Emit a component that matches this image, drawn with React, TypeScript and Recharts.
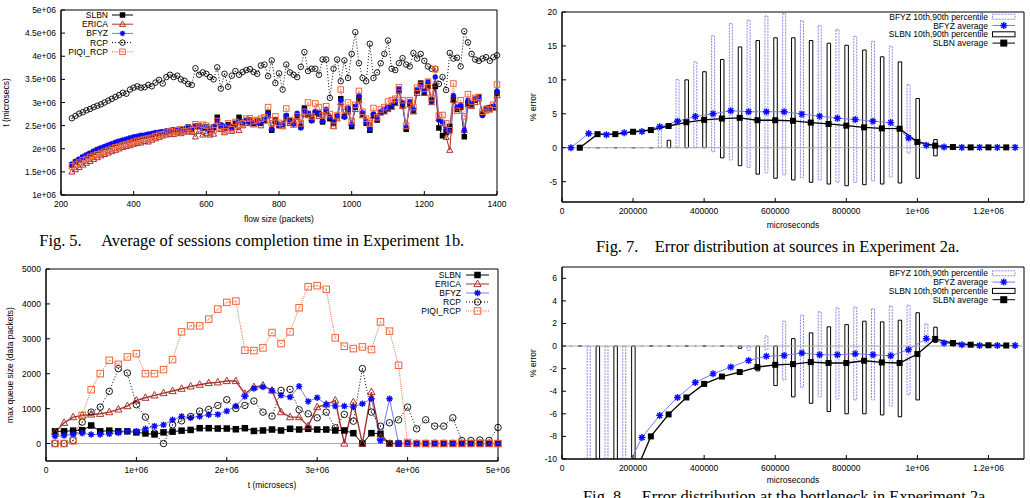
import { Bar, ComposedChart, Legend, Line, LineChart, ReferenceArea, ReferenceLine, XAxis, YAxis } from "recharts"

const SANS = "'Liberation Sans', Arial, Helvetica, sans-serif"
const SERIF = "'Liberation Serif', 'Times New Roman', serif"
const FS = 8.5

const BLUE = "#0a0aff"
const LAVENDER = "#7b7bf0"
const BOXBLUE = "#8a8ae6"
const BROWN = "#a8322d"
const ORANGE = "#f0643a"

/* ---------- Fig. 5: completion time (x 1e+06 microsecs) vs flow size ---------- */
const fig5Flow = [
  230, 240, 250, 260, 270, 280, 290, 300, 310, 320,
  330, 340, 350, 360, 370, 380, 390, 400, 410, 420,
  430, 440, 450, 460, 470, 480, 490, 500, 510, 520,
  530, 540, 550, 560, 570, 580, 590, 600, 610, 620,
  630, 640, 650, 660, 670, 680, 690, 700, 710, 720,
  730, 740, 750, 760, 770, 780, 790, 800, 810, 820,
  830, 840, 850, 860, 870, 880, 890, 900, 910, 920,
  930, 940, 950, 960, 970, 980, 990, 1000, 1010, 1020,
  1030, 1040, 1050, 1060, 1070, 1080, 1090, 1100, 1110, 1120,
  1130, 1140, 1150, 1160, 1170, 1180, 1190, 1200, 1210, 1220,
  1230, 1240, 1250, 1260, 1270, 1280, 1290, 1300, 1310, 1320,
  1330, 1340, 1350, 1360, 1370, 1380, 1390, 1400,
]
const fig5Slbn = [
  1.65, 1.71, 1.76, 1.81, 1.85, 1.89, 1.93, 1.97, 2.0, 2.03,
  2.06, 2.09, 2.12, 2.15, 2.17, 2.19, 2.21, 2.23, 2.25, 2.27,
  2.28, 2.3, 2.31, 2.33, 2.34, 2.36, 2.37, 2.38, 2.4, 2.41,
  2.4, 2.42, 2.47, 2.43, 2.48, 2.5, 2.45, 2.47, 2.4, 2.46,
  2.68, 2.5, 2.45, 2.52, 2.48, 2.55, 2.68, 2.56, 2.6, 2.62,
  2.55, 2.6, 2.55, 2.62, 2.78, 2.4, 2.62, 2.5, 2.52, 2.7,
  2.6, 2.55, 2.72, 2.48, 2.88, 2.75, 2.62, 2.78, 2.75, 2.58,
  2.82, 2.65, 2.55, 2.7, 3.08, 2.7, 2.85, 2.48, 2.9, 3.1,
  2.75, 2.55, 2.4, 2.72, 2.62, 2.78, 2.82, 2.88, 2.92, 3.0,
  3.28, 2.95, 2.42, 2.98, 2.82, 3.25, 3.42, 3.22, 3.38, 3.05,
  3.35, 2.45, 2.28, 2.35, 2.48, 3.07, 2.85, 2.9, 2.26, 2.98,
  2.95, 3.05, 3.12, 2.75, 2.85, 2.88, 2.9, 3.2,
]
const fig5Erica = [
  1.5, 1.55, 1.6, 1.65, 1.69, 1.73, 1.77, 1.81, 1.85, 1.88,
  1.91, 1.94, 1.97, 2.0, 2.03, 2.05, 2.07, 2.1, 2.12, 2.13,
  2.16, 2.15, 2.19, 2.22, 2.25, 2.28, 2.3, 2.32, 2.31, 2.35,
  2.33, 2.36, 2.38, 2.36, 2.26, 2.38, 2.3, 2.33, 2.3, 2.32,
  2.55, 2.42, 2.35, 2.45, 2.38, 2.47, 2.4, 2.5, 2.55, 2.56,
  2.52, 2.58, 2.5, 2.6, 2.72, 2.45, 2.6, 2.52, 2.48, 2.65,
  2.55, 2.58, 2.68, 2.52, 2.75, 2.72, 2.65, 2.8, 2.7, 2.62,
  2.78, 2.7, 2.48, 2.65, 3.0, 2.72, 2.8, 2.55, 2.85, 3.05,
  2.72, 2.62, 2.5, 2.7, 2.66, 2.8, 2.8, 2.85, 2.9, 2.98,
  3.25, 2.92, 2.48, 2.95, 2.8, 3.2, 3.3, 3.2, 3.35, 3.0,
  3.4, 2.65, 2.55, 2.25, 1.97, 3.05, 2.88, 2.92, 2.4, 2.95,
  2.92, 3.0, 3.08, 2.78, 2.82, 2.85, 2.88, 3.15,
]
const fig5Bfyz = [
  1.67, 1.73, 1.78, 1.83, 1.87, 1.91, 1.95, 1.99, 2.02, 2.05,
  2.08, 2.11, 2.14, 2.17, 2.19, 2.21, 2.24, 2.26, 2.27, 2.29,
  2.3, 2.32, 2.33, 2.35, 2.36, 2.37, 2.39, 2.4, 2.41, 2.42,
  2.43, 2.44, 2.43, 2.45, 2.5, 2.49, 2.47, 2.44, 2.42, 2.48,
  2.62, 2.52, 2.48, 2.5, 2.46, 2.52, 2.6, 2.58, 2.62, 2.58,
  2.57, 2.56, 2.58, 2.64, 2.75, 2.42, 2.58, 2.52, 2.54, 2.72,
  2.58, 2.53, 2.77, 2.45, 2.82, 2.77, 2.6, 2.8, 2.78, 2.6,
  2.85, 2.68, 2.58, 2.7, 3.05, 2.68, 2.88, 2.52, 2.92, 3.15,
  2.78, 2.58, 2.42, 2.75, 2.64, 2.8, 2.85, 2.9, 2.95, 3.02,
  3.3, 3.0, 2.46, 3.02, 2.85, 3.28, 3.35, 3.25, 3.45, 3.02,
  3.55, 2.62, 2.58, 2.42, 2.38, 3.15, 2.9, 2.95, 2.4, 3.05,
  2.98, 3.08, 3.1, 2.72, 2.88, 2.9, 2.92, 3.25,
]
const fig5Rcp = [
  2.66, 2.71, 2.76, 2.79, 2.83, 2.86, 2.9, 2.93, 2.96, 3.0,
  3.04, 3.08, 3.12, 3.16, 3.21, 3.19, 3.28, 3.32, 3.35, 3.32,
  3.33, 3.38, 3.35, 3.43, 3.49, 3.41, 3.55, 3.6, 3.55, 3.58,
  3.5, 3.47, 3.4, 3.38, 3.74, 3.6, 3.65, 3.62, 3.55, 3.5,
  3.76, 3.3, 3.62, 3.34, 3.58, 3.68, 3.6, 3.66, 3.7, 3.72,
  3.66, 3.62, 3.8, 3.82, 3.57, 3.91, 3.42, 3.63, 3.28, 3.82,
  3.65, 3.6, 3.55, 3.77, 4.09, 3.68, 3.73, 3.73, 3.6, 3.93,
  3.93, 3.1, 3.73, 3.93, 3.46, 3.91, 3.53, 4.05, 4.52, 3.85,
  3.53, 3.46, 4.27, 3.53, 3.65, 3.85, 4.05, 4.34, 3.73, 3.7,
  3.85, 3.96, 3.82, 3.78, 4.07, 3.95, 4.05, 3.9, 3.78, 3.73,
  3.73, 3.4, 3.55, 3.27, 4.07, 3.95, 3.97, 3.78, 4.54, 4.3,
  4.05, 3.93, 3.9, 3.95, 3.98, 3.9, 3.98, 4.02,
]
const fig5Piqi = [
  1.62, 1.66, 1.7, 1.75, 1.78, 1.82, 1.85, 1.88, 1.91, 1.94,
  1.97, 2.0, 2.03, 2.05, 2.08, 2.1, 2.12, 2.15, 2.17, 2.19,
  2.21, 2.22, 2.24, 2.27, 2.3, 2.31, 2.35, 2.38, 2.36, 2.4,
  2.42, 2.38, 2.45, 2.4, 2.53, 2.48, 2.52, 2.5, 2.45, 2.4,
  2.6, 2.45, 2.38, 2.55, 2.42, 2.58, 2.52, 2.55, 2.65, 2.66,
  2.6, 2.62, 2.65, 2.68, 2.9, 2.55, 2.7, 2.56, 2.5, 2.87,
  2.62, 2.52, 2.7, 2.55, 2.8, 3.0, 2.7, 2.98, 2.9, 2.72,
  2.92, 2.75, 2.5, 2.72, 3.28, 2.85, 3.0, 2.6, 2.95, 3.25,
  2.8, 2.65, 2.55, 2.88, 2.68, 2.85, 2.9, 3.02, 3.05, 3.08,
  3.33, 3.05, 2.5, 3.05, 2.9, 3.32, 3.38, 3.3, 3.45, 3.1,
  3.72, 2.72, 2.73, 2.55, 2.4, 3.41, 2.82, 3.05, 2.7, 3.18,
  3.02, 3.1, 3.12, 2.8, 2.85, 2.85, 2.95, 3.39,
]
const fig5XTicks = [200, 400, 600, 800, 1000, 1200, 1400]
const fig5YTicks = [1, 1.5, 2, 2.5, 3, 3.5, 4, 4.5, 5]

/* ---------- Fig. 6: max queue size vs time ---------- */
const fig6T = [
  100000, 200000, 300000, 400000, 500000, 600000, 700000, 800000, 900000, 1000000,
  1100000, 1200000, 1300000, 1400000, 1500000, 1600000, 1700000, 1800000, 1900000, 2000000,
  2100000, 2200000, 2300000, 2400000, 2500000, 2600000, 2700000, 2800000, 2900000, 3000000,
  3100000, 3200000, 3300000, 3400000, 3500000, 3600000, 3700000, 3800000, 3900000, 4000000,
  4100000, 4200000, 4300000, 4400000, 4500000, 4600000, 4700000, 4800000, 4900000, 5000000,
]
const fig6Slbn = [
  350, 350, 370, 380, 517, 350, 370, 350, 350, 320,
  290, 262, 320, 340, 370, 390, 440, 440, 430, 430,
  410, 440, 360, 374, 402, 374, 422, 402, 422, 402,
  402, 374, 374, 297, 0, 297, 278, 0, 0, 0,
  0, 0, 0, 0, 0, 0, 0, 0, 0, 0,
]
const fig6Erica = [
  325, 594, 757, 805, 834, 853, 900, 977, 1073, 1236,
  1313, 1380, 1446, 1504, 1571, 1638, 1686, 1734, 1753, 1791,
  1791, 1428, 1620, 1665, 1520, 900, 757, 757, 498, 1044,
  1121, 1236, 0, 1188, 0, 1475, 182, 0, 0, 0,
  0, 0, 0, 0, 0, 0, 0, 0, 0, 0,
]
const fig6Bfyz = [
  210, 230, 259, 297, 259, 259, 278, 307, 354, 354,
  422, 498, 536, 680, 776, 738, 776, 824, 834, 930,
  1073, 1351, 1580, 1619, 1520, 1380, 1332, 1638, 1207, 1313,
  1121, 1073, 1073, 1044, 1140, 1284, 86, 1284, 0, 0,
  0, 0, 0, 0, 0, 0, 0, 0, 0, 0,
]
const fig6Rcp = [
  0, 0, 90, 613, 900, 1044, 1494, 2146, 2021, 1112,
  757, 300, 0, 536, 650, 776, 930, 977, 1092, 1255,
  1006, 1092, 1217, 900, 785, 1523, 1552, 968, 853, 738,
  900, 450, 834, 641, 2146, 900, 498, 594, 680, 1044,
  422, 680, 498, 498, 738, 86, 86, 100, 86, 460,
]
const fig6Piqi = [
  0, 0, 78, 805, 1543, 2003, 2385, 2270, 2481, 2577,
  2003, 2003, 2118, 2405, 3199, 3371, 3371, 3564, 3851, 4043,
  4081, 2673, 2663, 2740, 3180, 2864, 3199, 3889, 4493, 4522,
  4417, 3027, 2788, 2720, 2768, 2692, 3486, 3219, 2242, 30,
  0, 0, 0, 0, 0, 0, 0, 0, 0, 0,
]
const fig6XTicks = [0, 1000000, 2000000, 3000000, 4000000, 5000000]
const fig6YTicks = [0, 1000, 2000, 3000, 4000, 5000]

/* ---------- Fig. 7 / Fig. 8: % error, SLBN every 50000 us, BFYZ shifted 25000 us ---------- */
const slbnT = [
  50000, 100000, 150000, 200000, 250000, 300000, 350000, 400000, 450000, 500000,
  550000, 600000, 650000, 700000, 750000, 800000, 850000, 900000, 950000, 1000000,
  1050000, 1100000, 1150000, 1200000, 1250000,
]
const bfyzT = [
  25000, 75000, 125000, 175000, 225000, 275000, 325000, 375000, 425000, 475000,
  525000, 575000, 625000, 675000, 725000, 775000, 825000, 875000, 925000, 975000,
  1025000, 1075000, 1125000, 1175000, 1225000, 1275000,
]
const fig7SlbnAvg = [0, 2.0, 2.0, 2.35, 2.6, 3.2, 3.75, 4.1, 4.3, 4.4, 4.05, 4.05, 3.97, 3.7, 3.5, 3.25, 3.0, 2.85, 2.8, 0.85, 0.3, 0.1, 0.05, 0.05, 0.05]
const fig7SlbnP10 = [0, 0, 0, 0, 0, 0, 0, 0, -1.5, -2.65, -3.9, -4.5, -4.75, -5.1, -5.35, -5.6, -5.45, -5.35, -5.2, -4.5, -1.2, 0, 0, 0, 0]
const fig7SlbnP90 = [0, 0, 0, 0, 0, 1.1, 10.0, 11.2, 13.0, 14.85, 15.8, 16.2, 16.2, 15.8, 15.4, 15.1, 14.4, 13.4, 12.65, 7.25, 1.2, 0, 0, 0, 0]
const fig7BfyzAvg = [0, 2.1, 1.9, 2.2, 2.4, 3.1, 3.9, 4.6, 5.0, 5.45, 5.3, 5.3, 5.3, 4.95, 4.65, 4.35, 4.15, 3.9, 3.7, 1.45, 0.35, 0.1, 0.05, 0.05, 0.05, 0.05]
const fig7BfyzP10 = [0, 0, 0, 0, 0, 0, 0, 0, -0.6, -1.8, -2.9, -3.7, -4.0, -4.4, -4.75, -5.1, -5.1, -4.9, -4.3, -0.8, 0, 0, 0, 0, 0, 0]
const fig7BfyzP90 = [0, 0, 0, 0, 0, 3.0, 10.05, 12.65, 16.5, 18.3, 18.8, 19.4, 19.8, 18.7, 18.0, 17.4, 16.4, 15.7, 14.95, 9.3, 0.4, 0, 0, 0, 0, 0]

const fig8SlbnAvg = [-35, -24, -16, -11.7, -8.0, -6.05, -4.55, -3.35, -2.7, -2.3, -1.86, -1.66, -1.6, -1.42, -1.5, -1.5, -1.3, -1.45, -1.5, -0.71, 0.63, 0.27, 0.12, 0.07, 0.05]
const fig8SlbnP10 = [0, -20, -20, -20, 0, 0, 0, 0, 0, -0.2, -2.2, -3.5, -4.5, -5.07, -5.8, -6.0, -6.0, -6.1, -6.26, -4.77, 0.33, 0, 0, 0, 0]
const fig8SlbnP90 = [0, 0, 0, 0, 0, 0, 0, 0, 0, 0, 0, 0, 0.66, 1.17, 1.7, 1.9, 2.2, 2.14, 2.29, 2.95, 1.67, 0, 0, 0, 0]
const fig8BfyzAvg = [-45, -32, -20, -11.3, -8.1, -6.14, -4.55, -3.23, -2.46, -1.86, -1.27, -0.91, -0.83, -0.62, -0.77, -0.77, -0.68, -0.77, -0.86, -0.32, 0.66, 0.27, 0.12, 0.05, 0.05, 0.05]
const fig8BfyzP10 = [0, -20, -20, -20, 0, 0, 0, 0, 0, 0, -0.4, -0.3, -3.0, -3.65, -4.48, -4.7, -4.77, -4.77, -5.3, -4.33, 0.27, 0, 0, 0, 0, 0]
const fig8BfyzP90 = [0, 0, 0, 0, 0, 0, 0, 0, 0, 0, 0, 0.9, 2.2, 2.74, 3.03, 3.39, 3.45, 3.3, 3.54, 3.63, 1.97, 0, 0, 0, 0, 0]

const errXTicks = [0, 200000, 400000, 600000, 800000, 1000000, 1200000]
const fig7YTicks = [-5, 0, 5, 10, 15, 20]
const fig8YTicks = [-10, -8, -6, -4, -2, 0, 2, 4, 6]

/* ---------- markers ---------- */
type Kind = "fsq" | "tri" | "star" | "circ" | "osq"

function Mark({ kind, cx, cy, color, s }: { kind: Kind; cx: number; cy: number; color: string; s: number }) {
  const h = s / 2
  if (kind === "fsq") return <rect x={cx - h} y={cy - h} width={s} height={s} fill={color} />
  if (kind === "tri")
    return (
      <path
        d={`M${cx} ${cy - h * 1.2}L${cx + h * 1.1} ${cy + h * 0.8}L${cx - h * 1.1} ${cy + h * 0.8}Z`}
        fill="none"
        stroke={color}
        strokeWidth={1}
      />
    )
  if (kind === "star") {
    const d = h * 0.72
    return (
      <path
        d={`M${cx - h} ${cy}H${cx + h}M${cx} ${cy - h}V${cy + h}M${cx - d} ${cy - d}L${cx + d} ${cy + d}M${cx - d} ${cy + d}L${cx + d} ${cy - d}`}
        stroke={color}
        strokeWidth={1.4}
      />
    )
  }
  if (kind === "circ")
    return (
      <g>
        <circle cx={cx} cy={cy} r={h} fill="none" stroke={color} strokeWidth={0.9} />
        <circle cx={cx} cy={cy} r={0.55} fill={color} />
      </g>
    )
  return (
    <g>
      <rect x={cx - h} y={cy - h} width={s} height={s} fill="none" stroke={color} strokeWidth={1} />
      <rect x={cx - 0.5} y={cy - 0.5} width={1} height={1} fill={color} />
    </g>
  )
}

const dotOf = (kind: Kind, color: string, s: number) => (p: any) => {
  if (p.cx == null || p.cy == null) return <g key={`e${p.index}`} />
  return (
    <g key={`m${p.index}`}>
      <Mark kind={kind} cx={p.cx} cy={p.cy} color={color} s={s} />
    </g>
  )
}

const boxShape = (key: string, stroke: string, dash?: string) => (p: any) => {
  const { x, y, width, height } = p
  if (!Array.isArray(p.payload?.[key]) || ![x, y, width, height].every(Number.isFinite)) return <g />
  return <path d={`M${x} ${y}h${width}v${height}h${-width}Z`} fill="none" stroke={stroke} strokeWidth={1} strokeDasharray={dash} />
}

/* ---------- gnuplot style key ---------- */
type KeyRow = { name: string; kind?: Kind; mark?: string; line?: string; dash?: string; box?: string; boxDash?: string }

function GnuKey({ rows, right, top, gap, x0, x1, s, w, h }: { rows: KeyRow[]; right: number; top: number; gap: number; x0: number; x1: number; s: number; w: number; h: number }) {
  return (
    <svg width={w} height={h} style={{ display: "block", overflow: "visible" }}>
      {rows.map((r, i) => {
        const y = top + i * gap
        return (
          <g key={r.name}>
            <text x={right} y={y} textAnchor="end" dominantBaseline="central" fontSize={FS} fontFamily={SANS} fill="#000">
              {r.name}
            </text>
            {r.box ? (
              <rect x={x0} y={y - 2.5} width={x1 - x0} height={5} fill="none" stroke={r.box} strokeDasharray={r.boxDash} />
            ) : (
              <line x1={x0} x2={x1} y1={y} y2={y} stroke={r.line} strokeDasharray={r.dash} />
            )}
            {r.kind && <Mark kind={r.kind} cx={(x0 + x1) / 2} cy={y} color={r.mark ?? "#000"} s={s} />}
          </g>
        )
      })}
    </svg>
  )
}

const yTitle = (text: string, cx: number) => (props: any) => {
  const vb = props.viewBox
  const cy = vb.y + vb.height / 2
  return (
    <text x={cx} y={cy} transform={`rotate(-90 ${cx} ${cy})`} textAnchor="middle" dominantBaseline="central" fontSize={FS} fontFamily={SANS} fill="#000">
      {text}
    </text>
  )
}
const xTitle = (text: string, dy: number) => (props: any) => {
  const vb = props.viewBox
  return (
    <text x={vb.x + vb.width / 2} y={vb.y + dy} textAnchor="middle" dominantBaseline="central" fontSize={FS} fontFamily={SANS} fill="#000">
      {text}
    </text>
  )
}

const TICK = { fontSize: FS, fontFamily: SANS, fill: "#000" }
const sci = (v: number) => (v === 0 ? "0" : `${v / 1e6}e+06`)
const errX = (v: number) => (v >= 1e6 ? `${v / 1e6}e+06` : `${v}`)

type Series = { key: string; name: string; kind: Kind; mark: string; line: string; dash?: string }
const fiveSeries: Series[] = [
  { key: "slbn", name: "SLBN", kind: "fsq", mark: "#000", line: "#000" },
  { key: "erica", name: "ERICA", kind: "tri", mark: BROWN, line: BROWN },
  { key: "bfyz", name: "BFYZ", kind: "star", mark: BLUE, line: LAVENDER },
  { key: "rcp", name: "RCP", kind: "circ", mark: "#000", line: "#000", dash: "1 2" },
  { key: "piqi", name: "PIQI_RCP", kind: "osq", mark: ORANGE, line: ORANGE, dash: "1 1.2" },
]
const errKey: KeyRow[] = [
  { name: "BFYZ 10th,90th percentile", box: BOXBLUE, boxDash: "2 1" },
  { name: "BFYZ average", kind: "star", mark: BLUE, line: LAVENDER },
  { name: "SLBN 10th,90th percentile", box: "#000" },
  { name: "SLBN average", kind: "fsq", mark: "#000", line: "#000" },
]

const fig5Rows = fig5Flow.map((f, i) => ({
  flow: f,
  slbn: fig5Slbn[i],
  erica: fig5Erica[i],
  bfyz: fig5Bfyz[i],
  rcp: fig5Rcp[i],
  piqi: fig5Piqi[i],
}))
const fig6Rows = fig6T.map((t, i) => ({
  t,
  slbn: fig6Slbn[i],
  erica: fig6Erica[i],
  bfyz: fig6Bfyz[i],
  rcp: fig6Rcp[i],
  piqi: fig6Piqi[i],
}))

function errorRows(sAvg: number[], sLo: number[], sHi: number[], bAvg: number[], bLo: number[], bHi: number[]) {
  const rows: any[] = [
    ...slbnT.map((t, i) => ({ t, slbn: sAvg[i], slbnBox: [sLo[i], sHi[i]] })),
    ...bfyzT.map((t, i) => ({ t, bfyz: bAvg[i], bfyzBox: [bLo[i], bHi[i]] })),
  ]
  return rows.sort((a, b) => a.t - b.t)
}
const fig7Rows = errorRows(fig7SlbnAvg, fig7SlbnP10, fig7SlbnP90, fig7BfyzAvg, fig7BfyzP10, fig7BfyzP90)
const fig8Rows = errorRows(fig8SlbnAvg, fig8SlbnP10, fig8SlbnP90, fig8BfyzAvg, fig8BfyzP10, fig8BfyzP90)

function ErrorChart({ rows, h, top, axisH, yDomain, yTicks, titleDy, keyTop }: { rows: any[]; h: number; top: number; axisH: number; yDomain: [number, number]; yTicks: number[]; titleDy: number; keyTop: number }) {
  const W = 510
  return (
    <ComposedChart width={W} height={h} data={rows} margin={{ top, right: 6, left: 0, bottom: 0 }}>
      <XAxis xAxisId="s" dataKey="t" type="number" domain={[0, 1300000]} ticks={errXTicks} interval={0} tickFormatter={errX} height={axisH} tickSize={-4} tickMargin={10} tick={TICK} stroke="#000" label={xTitle("microseconds", titleDy)} />
      <XAxis xAxisId="b" dataKey="t" type="number" domain={[0, 1300000]} orientation="top" height={0} hide />
      <YAxis type="number" domain={yDomain} ticks={yTicks} interval={0} allowDataOverflow width={42} tickSize={-4} tickMargin={9} tick={TICK} stroke="#000" label={yTitle("% error", 13)} />
      <ReferenceLine xAxisId="s" y={0} stroke="#a8a8a8" strokeWidth={1} />
      <Bar xAxisId="s" dataKey="slbnBox" barSize={3.5} shape={boxShape("slbnBox", "#000")} isAnimationActive={false} />
      <Bar xAxisId="b" dataKey="bfyzBox" barSize={3} shape={boxShape("bfyzBox", BOXBLUE, "2 1")} isAnimationActive={false} />
      <Line xAxisId="s" dataKey="bfyz" stroke={LAVENDER} strokeWidth={1} connectNulls dot={dotOf("star", BLUE, 7)} activeDot={false} isAnimationActive={false} />
      <Line xAxisId="s" dataKey="slbn" stroke="#000" strokeWidth={1.3} connectNulls dot={dotOf("fsq", "#000", 6)} activeDot={false} isAnimationActive={false} />
      <ReferenceArea xAxisId="s" x1={0} x2={1300000} y1={yDomain[0]} y2={yDomain[1]} fill="none" stroke="#000" strokeWidth={1} />
      <Legend
        layout="horizontal"
        verticalAlign="middle"
        align="center"
        wrapperStyle={{ left: 0, top: 0, width: W, height: h, pointerEvents: "none" }}
        content={() => <GnuKey rows={errKey} right={468} top={keyTop} gap={8.8} x0={472.5} x1={495} s={7} w={W} h={h} />}
      />
    </ComposedChart>
  )
}

export default function App() {
  return (
    <div style={{ position: "absolute", left: 0, top: 0, width: 1030, height: 498, overflow: "hidden", background: "#fff" }}>
      {/* Fig. 5 */}
      <div style={{ position: "absolute", left: 0, top: 0 }}>
        <LineChart width={510} height={230} data={fig5Rows} margin={{ top: 10, right: 13, left: 0, bottom: 0 }}>
          <XAxis dataKey="flow" type="number" domain={[200, 1400]} ticks={fig5XTicks} interval={0} height={35} tickSize={-4} tickMargin={10} tick={TICK} stroke="#000" label={xTitle("flow size (packets)", 24)} />
          <YAxis type="number" domain={[1, 5]} ticks={fig5YTicks} interval={0} tickFormatter={(v: number) => `${v}e+06`} width={61} tickSize={-4} tickMargin={9} tick={TICK} stroke="#000" label={yTitle("t (microsecs)", 5.5)} />
          {fiveSeries.map((s) => (
            <Line key={s.key} dataKey={s.key} stroke={s.line} strokeWidth={1} strokeDasharray={s.dash} dot={dotOf(s.kind, s.mark, 5.5)} activeDot={false} isAnimationActive={false} />
          ))}
          <ReferenceArea x1={200} x2={1400} y1={1} y2={5} fill="none" stroke="#000" strokeWidth={1} />
          <Legend
            layout="horizontal"
            verticalAlign="middle"
            align="center"
            wrapperStyle={{ left: 0, top: 0, width: 510, height: 230, pointerEvents: "none" }}
            content={() => (
              <GnuKey rows={fiveSeries.map((s) => ({ name: s.name, kind: s.kind, mark: s.mark, line: s.line, dash: s.dash }))} right={108} top={15} gap={9.2} x0={112} x1={133} s={5.5} w={510} h={230} />
            )}
          />
        </LineChart>
      </div>

      {/* Fig. 7 */}
      <div style={{ position: "absolute", left: 520, top: 0 }}>
        <ErrorChart rows={fig7Rows} h={240} top={12} axisH={38} yDomain={[-8, 20]} yTicks={fig7YTicks} titleDy={23} keyTop={16.7} />
      </div>

      {/* Fig. 6 */}
      <div style={{ position: "absolute", left: 0, top: 260 }}>
        <LineChart width={510} height={238} data={fig6Rows} margin={{ top: 9, right: 12, left: 0, bottom: 0 }}>
          <XAxis dataKey="t" type="number" domain={[0, 5000000]} ticks={fig6XTicks} interval={0} tickFormatter={sci} height={37} tickSize={-4} tickMargin={10} tick={TICK} stroke="#000" label={xTitle("t (microsecs)", 24)} />
          <YAxis type="number" domain={[-500, 5000]} ticks={fig6YTicks} interval={0} width={46} tickSize={-4} tickMargin={9} tick={TICK} stroke="#000" label={yTitle("max queue size (data packets)", 10)} />
          <ReferenceLine y={0} stroke="#a8a8a8" strokeWidth={1} />
          {fiveSeries.map((s) => (
            <Line key={s.key} dataKey={s.key} stroke={s.line} strokeWidth={s.key === "erica" ? 1.4 : 1} strokeDasharray={s.dash} dot={dotOf(s.kind, s.mark, 6.5)} activeDot={false} isAnimationActive={false} />
          ))}
          <ReferenceArea x1={0} x2={5000000} y1={-500} y2={5000} fill="none" stroke="#000" strokeWidth={1} />
          <Legend
            layout="horizontal"
            verticalAlign="middle"
            align="center"
            wrapperStyle={{ left: 0, top: 0, width: 510, height: 238, pointerEvents: "none" }}
            content={() => (
              <GnuKey rows={fiveSeries.map((s) => ({ name: s.name, kind: s.kind, mark: s.mark, line: s.line, dash: s.dash }))} right={461} top={15} gap={9} x0={466} x1={489} s={6.5} w={510} h={238} />
            )}
          />
        </LineChart>
      </div>

      {/* Fig. 8 */}
      <div style={{ position: "absolute", left: 520, top: 260 }}>
        <ErrorChart rows={fig8Rows} h={238} top={7} axisH={39} yDomain={[-10, 7]} yTicks={fig8YTicks} titleDy={21} keyTop={13.3} />
      </div>

      <svg width={1030} height={498} style={{ position: "absolute", left: 0, top: 0, pointerEvents: "none" }}>
        <g fontFamily={SERIF} fontSize={16.4} fill="#000">
          <text x={39.3} y={245.5} xmlSpace="preserve">{"Fig. 5.\u2003 Average of sessions completion time in Experiment 1b."}</text>
          <text x={596} y={252} xmlSpace="preserve">{"Fig. 7.\u2003Error distribution at sources in Experiment 2a."}</text>
          <text x={583} y={502} xmlSpace="preserve">{"Fig. 8.\u2003Error distribution at the bottleneck in Experiment 2a."}</text>
        </g>
      </svg>
    </div>
  )
}
